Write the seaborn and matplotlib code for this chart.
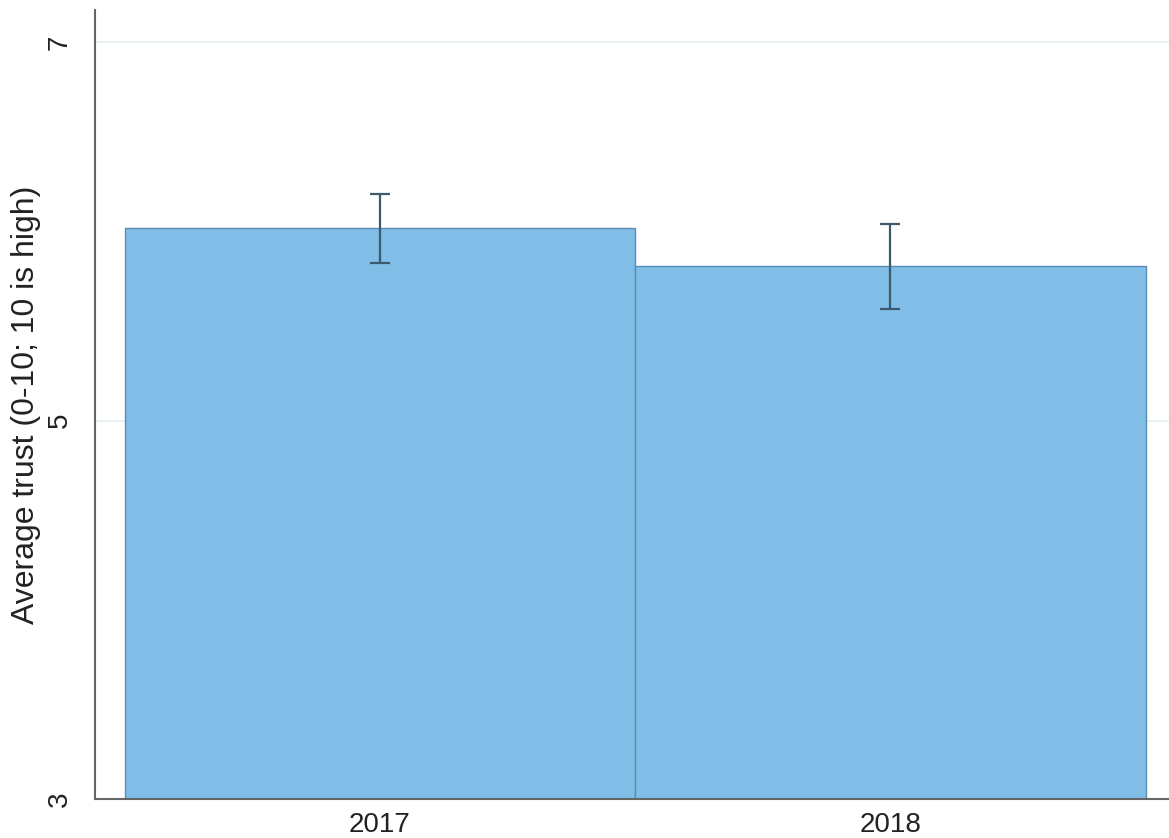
import matplotlib
matplotlib.use("Agg")
import matplotlib.pyplot as plt
import seaborn as sns
import pandas as pd

years = ["2017", "2018"]
means = [6.017, 5.816]
ci_low = [5.832, 5.589]
ci_high = [6.197, 6.038]
y_ticks = [3, 5, 7]
y_label = "Average trust (0-10; 10 is high)"

sns.set_style("white")
plt.rcParams["font.family"] = ["Liberation Sans", "DejaVu Sans"]

df = pd.DataFrame({"year": years, "trust": means})

fig = plt.figure(figsize=(11.69, 8.38), dpi=100)
ax = fig.add_axes([95 / 1169, 39 / 838, (1169 - 95) / 1169, (799 - 10) / 838])

sns.barplot(data=df, x="year", y="trust", color="#80bde7", saturation=1,
            width=1.0, errorbar=None, edgecolor="#5b8db3", linewidth=1.0, ax=ax)

centers = [p.get_x() + p.get_width() / 2 for p in ax.patches]
lower = [m - lo for m, lo in zip(means, ci_low)]
upper = [hi - m for m, hi in zip(means, ci_high)]
ax.errorbar(centers, means, yerr=[lower, upper], fmt="none", ecolor="#3d5a6c",
            elinewidth=1.6, capsize=7.5, capthick=1.6, zorder=5)

ax.set_ylim(3, 7.17)
ax.set_xlim(-0.558, 1.546)
ax.set_yticks(y_ticks)
ax.set_yticklabels([str(t) for t in y_ticks], rotation=90, va="center", fontsize=20)
ax.tick_params(axis="y", length=8, width=1.2, color="#555555", pad=8)
ax.tick_params(axis="x", length=0, labelsize=20, pad=9)
for t in ax.get_xticklabels():
    t.set_color("#222222")
for t in ax.get_yticklabels():
    t.set_color("#222222")

ax.grid(axis="y", color="#e6eff2", linewidth=1.2)
ax.set_axisbelow(True)
ax.set_xlabel("")
ax.set_ylabel(y_label, fontsize=23, color="#222222", labelpad=4)

for s in ["top", "right"]:
    ax.spines[s].set_visible(False)
for s in ["left", "bottom"]:
    ax.spines[s].set_color("#666666")
    ax.spines[s].set_linewidth(1.5)

fig.savefig("out.png", dpi=100)
